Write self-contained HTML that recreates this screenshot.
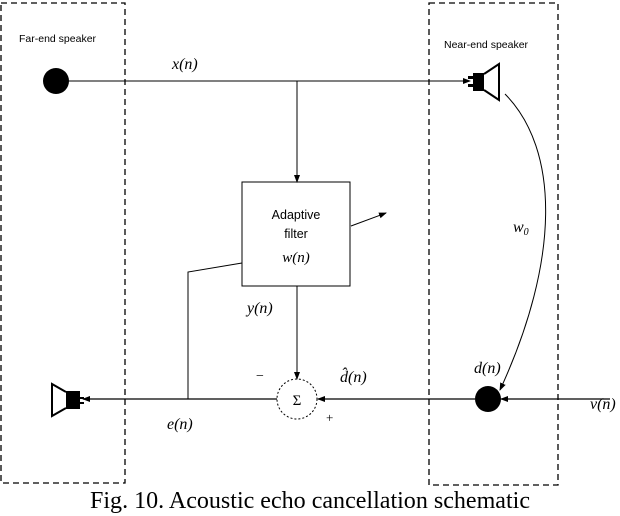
<!DOCTYPE html>
<html><head><style>
html,body{margin:0;padding:0;background:#fff;width:620px;height:516px;overflow:hidden}
svg text{font-family:"Liberation Serif",serif}
</style></head><body>
<svg width="620" height="516" viewBox="0 0 620 516" xmlns="http://www.w3.org/2000/svg">
<defs>
<marker id="a" markerWidth="8" markerHeight="8" refX="7" refY="4" orient="auto" markerUnits="userSpaceOnUse"><path d="M0,1 L8,4 L0,7 Z" fill="#000"/></marker>
</defs>
<rect x="1" y="3" width="124" height="480" fill="none" stroke="#000" stroke-width="1.3" stroke-dasharray="6,4"/>
<rect x="429" y="3" width="129" height="482" fill="none" stroke="#000" stroke-width="1.3" stroke-dasharray="6,4"/>
<text x="19" y="42" style="font-family:'Liberation Sans',sans-serif" font-size="10.5">Far-end speaker</text>
<text x="444" y="48" style="font-family:'Liberation Sans',sans-serif" font-size="10.5">Near-end speaker</text>
<circle cx="56" cy="81" r="13" fill="#000"/>
<line x1="68" y1="81" x2="470" y2="81" stroke="#000" marker-end="url(#a)"/>
<text x="172" y="69" font-size="16" font-style="italic">x(n)</text>
<rect x="468" y="76" width="6" height="3" fill="#000"/><rect x="468" y="84" width="6" height="3" fill="#000"/>
<rect x="473" y="73" width="11" height="18" fill="#000"/>
<path d="M484,74 L499,64 L499,100 L484,90" fill="none" stroke="#000" stroke-width="2"/>
<line x1="297" y1="81" x2="297" y2="182" stroke="#000" marker-end="url(#a)"/>
<rect x="242" y="182" width="108" height="104" fill="none" stroke="#000"/>
<text x="296" y="219" text-anchor="middle" font-size="12.5" style="font-family:'Liberation Sans',sans-serif">Adaptive</text>
<text x="296" y="238" text-anchor="middle" font-size="12.5" style="font-family:'Liberation Sans',sans-serif">filter</text>
<text x="296" y="262" text-anchor="middle" font-size="15" font-style="italic">w(n)</text>
<line x1="351" y1="226" x2="386" y2="213" stroke="#000" marker-end="url(#a)"/>
<polyline points="242,263 188,272 188,399" fill="none" stroke="#000"/>
<line x1="297" y1="286" x2="297" y2="379" stroke="#000" marker-end="url(#a)"/>
<text x="247" y="313" font-size="16" font-style="italic">y(n)</text>
<circle cx="297" cy="399" r="20" fill="none" stroke="#000" stroke-dasharray="2,2"/>
<text x="297" y="405" text-anchor="middle" font-size="15">Σ</text>
<text x="256" y="380" font-size="14">−</text>
<text x="326" y="422" font-size="13">+</text>
<line x1="475" y1="399" x2="318" y2="399" stroke="#000" stroke-width="1.3" marker-end="url(#a)"/>
<line x1="277" y1="399" x2="83" y2="399" stroke="#000" stroke-width="1.3" marker-end="url(#a)"/>
<line x1="610" y1="399" x2="501" y2="399" stroke="#000" stroke-width="1.3" marker-end="url(#a)"/>
<circle cx="488" cy="399" r="13" fill="#000"/>
<text x="340" y="382" font-size="16" font-style="italic">d̂(n)</text>
<text x="167" y="429" font-size="16" font-style="italic">e(n)</text>
<text x="474" y="373" font-size="16" font-style="italic">d(n)</text>
<text x="590" y="409" font-size="16" font-style="italic">v(n)</text>
<text x="513" y="232" font-size="16" font-style="italic">w<tspan font-size="10" dy="3">0</tspan></text>
<path d="M505,94 C560,150 560,260 500,390" fill="none" stroke="#000" marker-end="url(#a)"/>
<rect x="80" y="397" width="4" height="2" fill="#000"/><rect x="80" y="402" width="4" height="2" fill="#000"/>
<rect x="66" y="391" width="14" height="18" fill="#000"/>
<path d="M66,392 L52,384 L52,416 L66,408" fill="none" stroke="#000" stroke-width="2"/>
<text x="310" y="508" text-anchor="middle" font-size="24" textLength="440" lengthAdjust="spacingAndGlyphs">Fig. 10. Acoustic echo cancellation schematic</text>
</svg>
</body></html>
